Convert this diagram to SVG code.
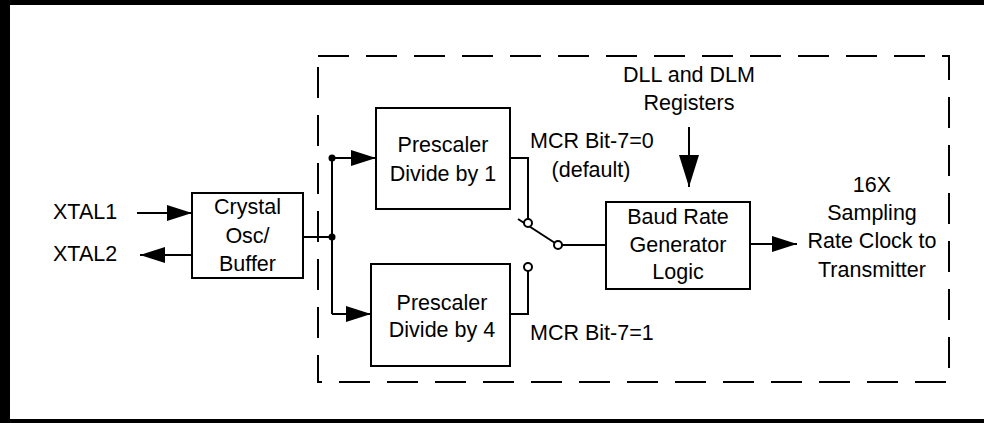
<svg xmlns="http://www.w3.org/2000/svg" width="984" height="423" viewBox="0 0 984 423">
<style>
.box{fill:#fff;stroke:#000;stroke-width:2}
.ln{fill:none;stroke:#000;stroke-width:2}
.t{font-family:"Liberation Sans",Arial,sans-serif;font-size:21.5px;fill:#000}
.m{text-anchor:middle}
.c{fill:#fff;stroke:#000;stroke-width:2}
</style>
<defs>
<marker id="ah" viewBox="0 0 25 16" refX="25" refY="8" markerWidth="25" markerHeight="16" markerUnits="userSpaceOnUse" orient="auto"><path d="M0,0 L25,8 L0,16 Z" fill="#000"/></marker>
<marker id="ahb" viewBox="0 0 32 20" refX="32" refY="10" markerWidth="32" markerHeight="20" markerUnits="userSpaceOnUse" orient="auto"><path d="M0,0 L32,10 L0,20 Z" fill="#000"/></marker>
</defs>
<rect x="0" y="0" width="984" height="423" fill="#fff"/>
<g id="frame">
<rect x="0" y="0" width="984" height="5" fill="#000"/>
<rect x="0" y="0" width="10" height="423" fill="#000"/>
<rect x="0" y="419" width="984" height="4" fill="#000"/>
</g>
<g id="dashed-region">
<rect x="318" y="56" width="631" height="326" fill="none" stroke="#000" stroke-width="2" stroke-dasharray="31 17"/>
</g>
<g id="connectors">
<line class="ln" x1="137" y1="213" x2="192" y2="213" marker-end="url(#ah)"/>
<line class="ln" x1="192" y1="255" x2="140" y2="255" marker-end="url(#ah)"/>
<line class="ln" x1="303" y1="237" x2="332" y2="237"/>
<line class="ln" x1="332" y1="158" x2="332" y2="314"/>
<line class="ln" x1="332" y1="158" x2="376" y2="158" marker-end="url(#ah)"/>
<line class="ln" x1="332" y1="314" x2="371" y2="314" marker-end="url(#ah)"/>
<circle cx="332" cy="158" r="3.5" fill="#000"/>
<circle cx="332" cy="237" r="3.5" fill="#000"/>
<polyline class="ln" points="510,158 528,158 528,219"/>
<polyline class="ln" points="510,314 528,314 528,271"/>
<line class="ln" x1="518" y1="219" x2="555" y2="243"/>
<line class="ln" x1="562" y1="245" x2="606" y2="245"/>
<circle class="c" cx="528" cy="223" r="4"/>
<circle class="c" cx="528" cy="267" r="4"/>
<circle class="c" cx="558" cy="245" r="4"/>
<line class="ln" x1="689" y1="127" x2="689" y2="187" marker-end="url(#ahb)"/>
<line class="ln" x1="750" y1="244" x2="797" y2="244" marker-end="url(#ah)"/>
</g>
<g id="xtal-labels">
<text class="t" x="53" y="219">XTAL1</text>
<text class="t" x="53" y="261">XTAL2</text>
</g>
<g id="crystal">
<rect class="box" x="192" y="193" width="111" height="85"/>
<text class="t m" x="247.5" y="214">Crystal</text>
<text class="t m" x="247.5" y="243">Osc/</text>
<text class="t m" x="247.5" y="271">Buffer</text>
</g>
<g id="prescaler1">
<rect class="box" x="376" y="108" width="134" height="101"/>
<text class="t m" x="443" y="152">Prescaler</text>
<text class="t m" x="443" y="181">Divide by 1</text>
</g>
<g id="prescaler4">
<rect class="box" x="371" y="264" width="139" height="102"/>
<text class="t m" x="442" y="310">Prescaler</text>
<text class="t m" x="442" y="337">Divide by 4</text>
</g>
<g id="baud">
<rect class="box" x="606" y="202" width="144" height="87"/>
<text class="t m" x="678" y="224">Baud Rate</text>
<text class="t m" x="678" y="252">Generator</text>
<text class="t m" x="678" y="279">Logic</text>
</g>
<g id="labels">
<text class="t m" x="689" y="82">DLL and DLM</text>
<text class="t m" x="689" y="110">Registers</text>
<text class="t" x="530" y="148">MCR Bit-7=0</text>
<text class="t m" x="591" y="177">(default)</text>
<text class="t" x="530" y="340">MCR Bit-7=1</text>
<text class="t m" x="872" y="192">16X</text>
<text class="t m" x="872" y="220">Sampling</text>
<text class="t m" x="872" y="248">Rate Clock to</text>
<text class="t m" x="872" y="277">Transmitter</text>
</g>
</svg>
